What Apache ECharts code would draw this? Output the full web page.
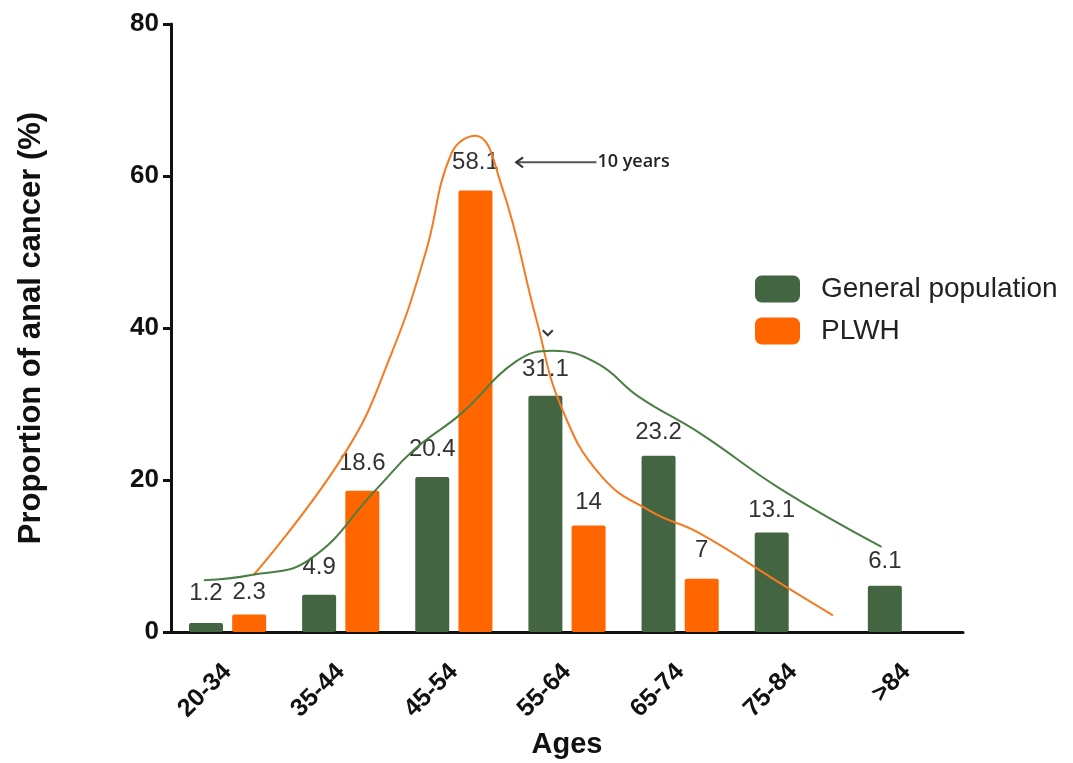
<!DOCTYPE html>
<html>
<head>
<meta charset="utf-8">
<script src="https://cdn.jsdelivr.net/npm/echarts@6/dist/echarts.min.js"></script>
<style>html,body{margin:0;padding:0;background:#fff}#c{width:1073px;height:763px}</style>
</head>
<body>
<div id="c"></div>
<script>
// ---- data ----
var categories = ['20-34', '35-44', '45-54', '55-64', '65-74', '75-84', '>84'];
var generalPopulation = [1.2, 4.9, 20.4, 31.1, 23.2, 13.1, 6.1];
var plwh = [2.3, 18.6, 58.1, 14, 7, null, null];
var yTicks = [0, 20, 40, 60, 80];
// fitted curves: [position along category axis (0..7), value]
var plwhCurve = [[0.73, 7.5], [1.54, 23.6], [1.95, 36.7], [2.25, 49.9], [2.48, 63.0], [2.69, 65.3], [2.92, 58.8], [3.23, 41.1], [3.45, 29.6], [3.81, 20.4], [4.25, 15.8], [4.67, 13.0], [5.44, 5.9], [5.85, 2.2]];
var generalCurve = [[0.29, 6.8], [0.71, 7.5], [1.22, 9.5], [1.81, 18.7], [2.15, 24.0], [2.57, 28.8], [3.05, 35.6], [3.37, 37.0], [3.76, 35.4], [4.14, 30.9], [4.67, 26.2], [5.40, 18.7], [6.28, 11.2]];
var annotationText = '10 years';
var arrowAt = {from: [3.05, 61.8], to: [3.76, 61.8]};
var checkAt = [3.33, 39.3];

// label lift (style only)
var greenLift = [18, 15, 16, 14, 11, 10, 12];
var orangeLift = [10, 15, 16, 11, 16, 0, 0];

var GREEN = '#436541', ORANGE = '#ff6600';
var FONT = 'Liberation Sans, Arial, sans-serif';
var labelStyle = {show: true, position: 'top', color: '#333', fontSize: 24, fontFamily: FONT};

function items(vals, lift) {
  return vals.map(function (v, i) {
    if (v === null) return '-';
    return {value: v, label: {distance: lift[i]}};
  });
}

var chart = echarts.init(document.getElementById('c'));
var option = {
  animation: false,
  backgroundColor: '#fff',
  grid: {left: 171, top: 24, width: 792, height: 608, containLabel: false, outerBoundsMode: 'none'},
  legend: {
    data: ['General population', 'PLWH'],
    orient: 'vertical', left: 755, top: 275,
    itemWidth: 45, itemHeight: 27, itemGap: 14, padding: 0,
    icon: 'roundRect',
    textStyle: {fontSize: 28, color: '#222', fontFamily: FONT, padding: [0, 0, 0, 16]}
  },
  xAxis: [{
    type: 'category', data: categories, boundaryGap: true,
    name: 'Ages', nameLocation: 'middle', nameGap: 98,
    nameTextStyle: {fontSize: 29, fontWeight: 'bold', color: '#111', fontFamily: FONT},
    axisLine: {lineStyle: {color: '#111', width: 3}},
    axisTick: {alignWithLabel: true, length: 10, lineStyle: {color: '#111', width: 3}},
    axisLabel: {rotate: 45, fontSize: 25, fontWeight: 'bold', color: '#111', margin: 36, fontFamily: FONT}
  }, {
    type: 'value', min: 0, max: 7, show: false
  }],
  yAxis: {
    type: 'value', min: yTicks[0], max: yTicks[yTicks.length - 1], interval: yTicks[1] - yTicks[0],
    name: 'Proportion of anal cancer (%)', nameLocation: 'middle', nameGap: 124, nameRotate: 90,
    nameTextStyle: {fontSize: 31, fontWeight: 'bold', color: '#111', fontFamily: FONT},
    axisLine: {show: true, lineStyle: {color: '#111', width: 3}},
    axisTick: {show: true, length: 8, lineStyle: {color: '#111', width: 3}},
    splitLine: {show: false},
    axisLabel: {fontSize: 26, fontWeight: 'bold', color: '#111', margin: 12, fontFamily: FONT}
  },
  series: [{
    name: 'General population', type: 'bar', data: items(generalPopulation, greenLift),
    barWidth: 34, barGap: '27%',
    itemStyle: {color: GREEN, borderRadius: 2},
    label: labelStyle
  }, {
    name: 'PLWH', type: 'bar', data: items(plwh, orangeLift),
    barWidth: 34,
    itemStyle: {color: ORANGE, borderRadius: 2},
    label: labelStyle
  }, {
    name: 'PLWH fit', type: 'line', xAxisIndex: 1, data: plwhCurve, smooth: 0.45,
    showSymbol: false, lineStyle: {color: '#f57b22', width: 2}, z: 5
  }, {
    name: 'General fit', type: 'line', xAxisIndex: 1, data: generalCurve, smooth: 0.45,
    showSymbol: false, lineStyle: {color: '#4a7f44', width: 2}, z: 5
  }]
};
chart.setOption(option);

var a = chart.convertToPixel({xAxisIndex: 1, yAxisIndex: 0}, arrowAt.from);
var b = chart.convertToPixel({xAxisIndex: 1, yAxisIndex: 0}, arrowAt.to);
var c = chart.convertToPixel({xAxisIndex: 1, yAxisIndex: 0}, checkAt);
var o = chart.convertToPixel({xAxisIndex: 0, yAxisIndex: 0}, [0, 0]);
chart.setOption({
  graphic: [
    {type: 'line', shape: {x1: a[0], y1: a[1], x2: b[0], y2: b[1]}, style: {stroke: '#555', lineWidth: 2}, z: 10},
    {type: 'polyline', shape: {points: [[a[0] + 7, a[1] - 5], [a[0], a[1]], [a[0] + 7, a[1] + 5]]}, style: {stroke: '#333', lineWidth: 2, fill: null}, z: 10},
    {type: 'text', x: b[0] + 1, y: b[1], style: {text: annotationText, fontSize: 18, fontWeight: 600, fill: '#222', verticalAlign: 'middle', fontFamily: 'Open Sans, sans-serif'}, z: 10},
    {type: 'polyline', shape: {points: [[c[0] - 5, c[1] - 3], [c[0], c[1] + 2], [c[0] + 5, c[1] - 3]]}, style: {stroke: '#333', lineWidth: 2, fill: null}, z: 10}
  ]
});
</script>
</body>
</html>
